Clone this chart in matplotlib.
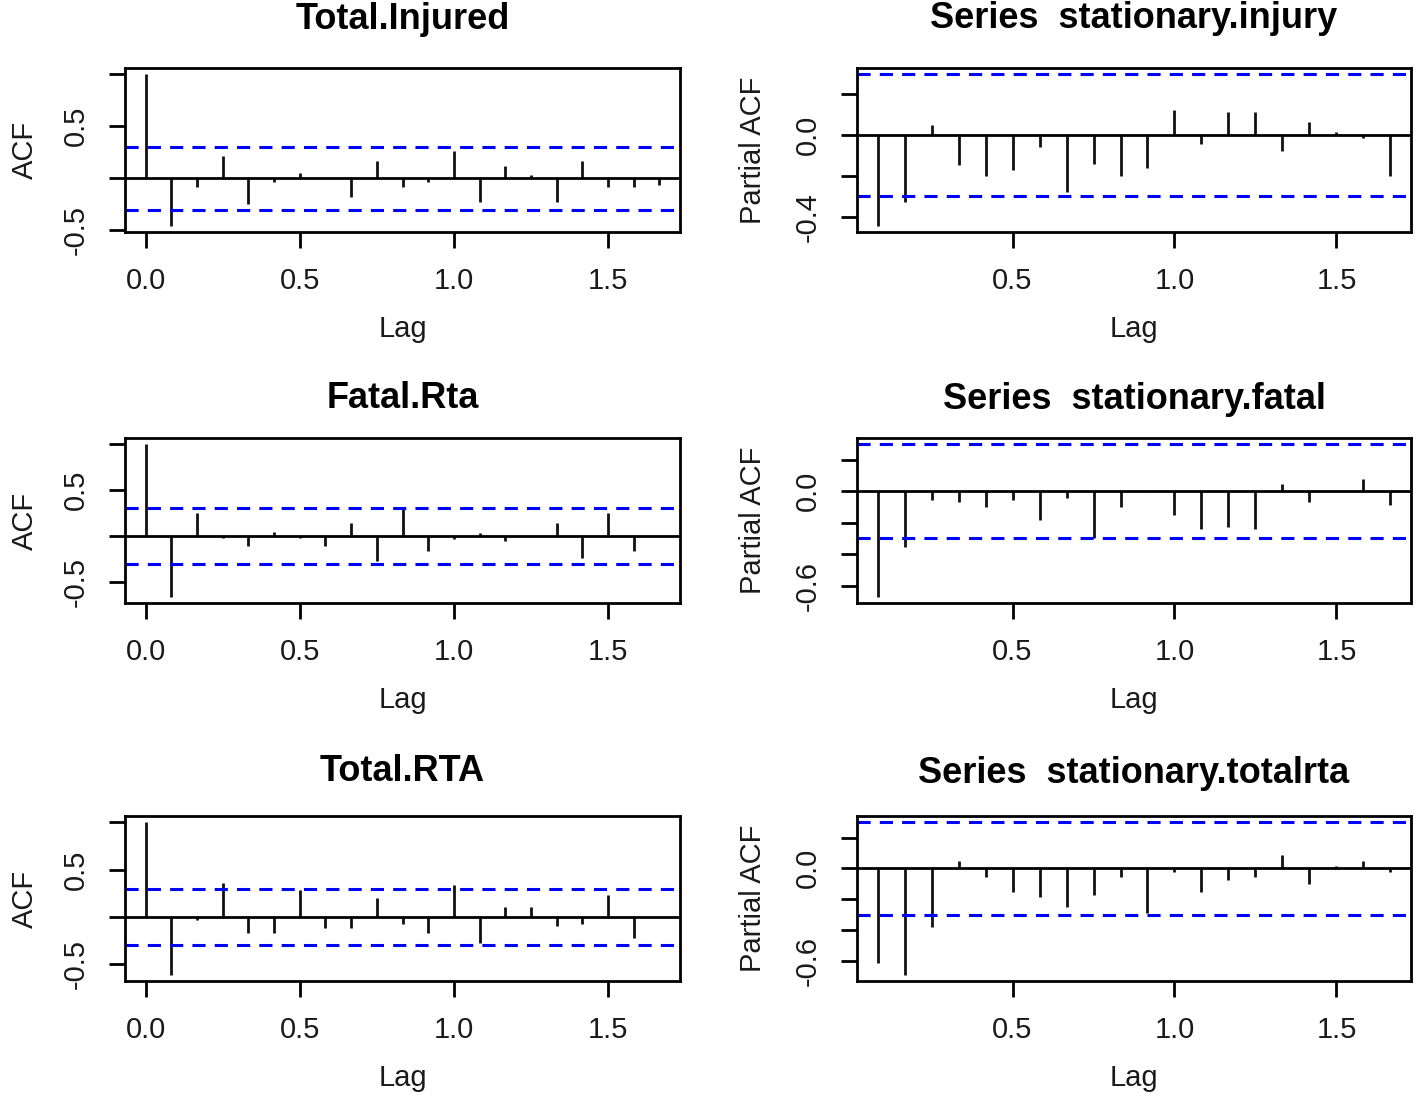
import numpy as np, matplotlib
matplotlib.use("Agg")
import matplotlib.pyplot as plt
import matplotlib.transforms as mtransforms

plt.rcParams['font.family'] = ['Liberation Sans', 'DejaVu Sans']

# monthly series -> lags in years (k/12)
freq = 12
acf_lags = np.arange(0, 21) / freq
pacf_lags = np.arange(1, 21) / freq

acf_injured = [1.0, -0.457, -0.08, 0.215, -0.248, -0.04, 0.048, 0.005, -0.177, 0.164, -0.087,
               -0.04, 0.26, -0.225, 0.12, 0.03, -0.225, 0.164, -0.08, -0.08, -0.065]
acf_fatal = [1.0, -0.663, 0.253, -0.026, -0.11, 0.04, -0.026, -0.11, 0.146, -0.267, 0.293,
             -0.165, -0.033, 0.037, -0.06, 0.004, 0.146, -0.245, 0.253, -0.165, -0.004]
acf_totalrta = [1.0, -0.61, -0.035, 0.36, -0.17, -0.17, 0.285, -0.12, -0.12, 0.203, -0.07,
                -0.17, 0.334, -0.27, 0.103, 0.103, -0.096, -0.07, 0.228, -0.22, 0.004]

pacf_injury = [-0.445, -0.328, 0.051, -0.148, -0.198, -0.173, -0.056, -0.28, -0.14, -0.198,
               -0.161, 0.122, -0.041, 0.112, 0.112, -0.077, 0.064, 0.016, -0.016, -0.198]
pacf_fatal = [-0.672, -0.352, -0.058, -0.07, -0.102, -0.058, -0.181, -0.043, -0.299, -0.102,
              -0.005, -0.149, -0.241, -0.228, -0.241, 0.049, -0.07, 0.003, 0.079, -0.087]
pacf_totalrta = [-0.613, -0.692, -0.378, 0.05, -0.059, -0.152, -0.187, -0.248, -0.171, -0.059,
                 -0.292, -0.022, -0.152, -0.075, -0.059, 0.084, -0.105, 0.018, 0.05, -0.026]

clim = 0.30  # 1.96/sqrt(n)

titles = ["Total.Injured", "Series  stationary.injury",
          "Fatal.Rta", "Series  stationary.fatal",
          "Total.RTA", "Series  stationary.totalrta"]
ylabels = ["ACF", "Partial ACF"] * 3
series = [acf_injured, pacf_injury, acf_fatal, pacf_fatal, acf_totalrta, pacf_totalrta]
yticks = [[-0.5, 0.0, 0.5, 1.0], [-0.4, -0.2, 0.0, 0.2],
          [-0.5, 0.0, 0.5, 1.0], [-0.6, -0.4, -0.2, 0.0, 0.2],
          [-0.5, 0.0, 0.5, 1.0], [-0.6, -0.4, -0.2, 0.0, 0.2]]
ylabs_shown = [["-0.5", "", "0.5", ""], ["-0.4", "", "0.0", ""],
               ["-0.5", "", "0.5", ""], ["-0.6", "", "", "0.0", ""],
               ["-0.5", "", "0.5", ""], ["-0.6", "", "", "0.0", ""]]

W, H, DPI = 1416, 1100, 100
fig = plt.figure(figsize=(W / DPI, H / DPI), dpi=DPI)

# panel frames in pixels: (left, right) per column, (top, bottom) per row
cols = [(125, 680), (857, 1411)]
rows = [(68, 232), (438, 603), (816, 981)]
title_gap = [39, 40, 30, 29, 35, 33]
px = 72 / DPI  # px -> pt
txt = '#1a1a1a'

for i in range(6):
    r, c = divmod(i, 2)
    x0, x1 = cols[c]
    y0, y1 = rows[r]
    ax = fig.add_axes([x0 / W, 1 - y1 / H, (x1 - x0) / W, (y1 - y0) / H])

    vals = np.array(series[i])
    lags = acf_lags if c == 0 else pacf_lags
    ax.vlines(lags, 0, vals, color='#111111', lw=2)
    ax.axhline(0, color='black', lw=2)
    for s in (clim, -clim):
        ax.axhline(s, color='#0000ff', lw=2.2, ls=(0, (4.3, 3.0)))

    # R style 4% extension
    lo, hi = min(vals.min(), -clim), max(vals.max(), clim)
    d = (hi - lo) * 0.04
    ax.set_ylim(lo - d, hi + d)
    d = (lags[-1] - lags[0]) * 0.04
    ax.set_xlim(lags[0] - d, lags[-1] + d)

    xt = [0.0, 0.5, 1.0, 1.5] if c == 0 else [0.5, 1.0, 1.5]
    ax.set_xticks(xt)
    ax.set_xticklabels([f"{v:.1f}" for v in xt])
    ax.set_yticks(yticks[i])
    ax.set_yticklabels(ylabs_shown[i])
    ax.tick_params(direction='out', length=16 * px, width=2, labelsize=21,
                   pad=33 * px, labelcolor=txt)
    plt.setp(ax.get_yticklabels(), rotation=90, ha='center', va='center')
    plt.setp(ax.get_xticklabels(), va='center')
    for sp in ax.spines.values():
        sp.set_linewidth(2)

    ax.set_title(titles[i], fontsize=26, fontweight='bold', pad=title_gap[i] * px)
    ax.set_xlabel("Lag", fontsize=21, va='center', color=txt)
    ax.xaxis.set_label_coords(0.5, 0, transform=ax.transAxes +
                              mtransforms.ScaledTranslation(0, -97 / DPI, fig.dpi_scale_trans))
    ax.set_ylabel(ylabels[i], fontsize=21, va='center', color=txt)
    yoff = 100 if c == 0 else 104
    ax.yaxis.set_label_coords(0, 0.5, transform=ax.transAxes +
                              mtransforms.ScaledTranslation(-yoff / DPI, 0, fig.dpi_scale_trans))

fig.savefig("out.png", dpi=DPI)
